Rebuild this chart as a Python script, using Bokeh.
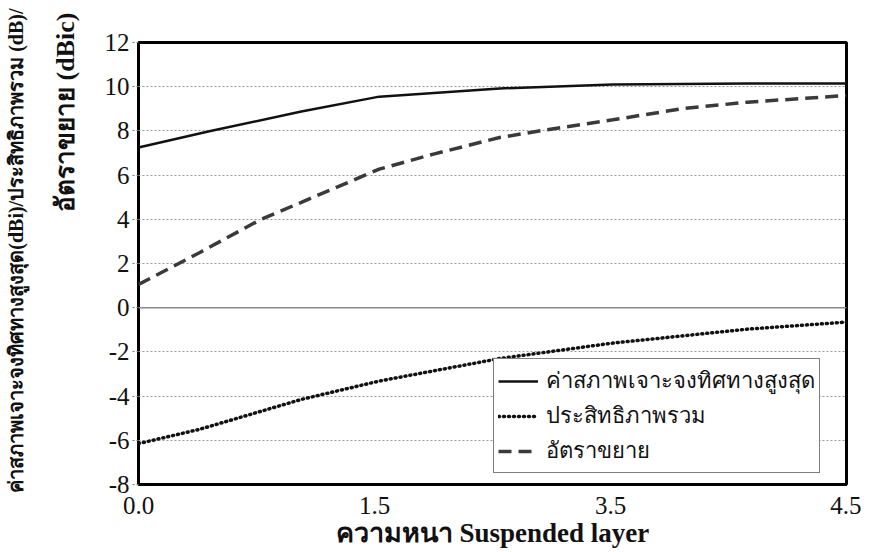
from bokeh.plotting import figure
from bokeh.models import FixedTicker, Span, Legend, LegendItem, Title, Range1d
from bokeh.embed import file_html
from bokeh.resources import INLINE

# x positions on the (evenly spaced) category axis: 0 -> "0.0", 1 -> "1.5", 2 -> "3.5", 3 -> "4.5"
x_ticks = [0, 1, 2, 3]
x_tick_labels = ["0.0", "1.5", "3.5", "4.5"]
y_ticks = [-8, -6, -4, -2, 0, 2, 4, 6, 8, 10, 12]
y_tick_labels = ["-8", "-6", "-4", "-2", "0", "2", "4", "6", "8", "10", "12"]

# directivity (dBi) - solid
dir_x = [0.0, 0.30, 0.69, 1.02, 1.53, 2.01, 2.58, 3.0]
dir_y = [7.25, 7.98, 8.88, 9.55, 9.92, 10.1, 10.15, 10.15]

# total efficiency (dB) - dotted
eff_x = [0.0, 0.26, 0.69, 1.02, 1.53, 2.01, 2.58, 3.0]
eff_y = [-6.15, -5.5, -4.15, -3.32, -2.3, -1.6, -0.97, -0.65]

# gain (dBic) - dashed
gain_x = [0.0, 0.26, 0.52, 0.69, 1.02, 1.25, 1.53, 1.73, 2.01, 2.30, 2.58, 3.0]
gain_y = [1.05, 2.5, 4.0, 4.77, 6.27, 6.95, 7.7, 8.05, 8.5, 9.0, 9.3, 9.6]

label_dir = "ค่าสภาพเจาะจงทิศทางสูงสุด"
label_eff = "ประสิทธิภาพรวม"
label_gain = "อัตราขยาย"
x_title = "ความหนา Suspended layer"
y_title_1 = "ค่าสภาพเจาะจงทิศทางสูงสุด(dBi)/ประสิทธิภาพรวม (dB)/"
y_title_2 = "อัตราขยาย (dBic)"

SERIF = "Liberation Serif"

p = figure(frame_width=708, frame_height=442,
           min_border_left=138, min_border_right=15, min_border_top=42, min_border_bottom=66,
           x_range=Range1d(0, 3), y_range=Range1d(-8, 12),
           output_backend="svg", toolbar_location=None)
p.background_fill_color = "white"
p.border_fill_color = "white"
p.outline_line_color = "black"
p.outline_line_width = 3

# axes
p.xaxis.ticker = FixedTicker(ticks=x_ticks)
p.xaxis.major_label_overrides = {t: l for t, l in zip(x_ticks, x_tick_labels)}
p.yaxis.ticker = FixedTicker(ticks=y_ticks)
p.yaxis.major_label_overrides = {t: l for t, l in zip(y_ticks, y_tick_labels)}
p.xaxis.axis_line_color = None
p.yaxis.axis_line_color = None
p.xaxis.minor_tick_line_color = None
p.yaxis.minor_tick_line_color = None
p.xaxis.major_label_text_font = SERIF
p.yaxis.major_label_text_font = SERIF
p.xaxis.major_label_text_font_size = "25px"
p.yaxis.major_label_text_font_size = "25px"
p.xaxis.major_label_text_color = "#111111"
p.yaxis.major_label_text_color = "#111111"
p.xaxis.major_tick_line_color = None
p.xaxis.major_label_standoff = 6
p.yaxis.major_tick_in = 0
p.yaxis.major_tick_out = 6
p.yaxis.major_tick_line_color = "#777777"
p.yaxis.major_tick_line_dash = "2 2"
p.yaxis.major_label_standoff = 3

p.xaxis.axis_label = x_title
p.xaxis.axis_label_text_font = SERIF
p.xaxis.axis_label_text_font_style = "bold"
p.xaxis.axis_label_text_font_size = "27px"
p.xaxis.axis_label_standoff = 1
p.xaxis.axis_label_text_color = "#111111"

# grid
p.xgrid.grid_line_color = None
p.ygrid.ticker = FixedTicker(ticks=[-6, -4, -2, 2, 4, 6, 8, 10])
p.ygrid.grid_line_color = "#999999"
p.ygrid.grid_line_dash = "2 2"
p.ygrid.grid_line_width = 1
p.add_layout(Span(location=0, dimension="width", line_color="#888888", line_width=1.5))

# y titles (two lines, aligned at top)
t2 = Title(text=y_title_2, align="right", text_font=SERIF, text_font_style="bold",
           text_font_size="26px", text_color="#111111", offset=-30, standoff=44)
t1 = Title(text=y_title_1, align="right", text_font=SERIF, text_font_style="bold",
           text_font_size="20px", text_color="#111111", offset=-34, standoff=0)
p.add_layout(t2, "left")
p.add_layout(t1, "left")

r_dir = p.line(dir_x, dir_y, line_color="#111111", line_width=2.5)
r_eff = p.line(eff_x, eff_y, line_color="#111111", line_width=3.5, line_dash="1 4", line_cap="round")
r_gain = p.line(gain_x, gain_y, line_color="#3a3a3a", line_width=3.5, line_dash="13 7")

legend = Legend(items=[LegendItem(label=label_dir, renderers=[r_dir]),
                       LegendItem(label=label_eff, renderers=[r_eff]),
                       LegendItem(label=label_gain, renderers=[r_gain])],
                location=(355, 11))
legend.label_text_font = "Noto Sans"
legend.label_text_font_size = "22px"
legend.label_text_color = "#111111"
legend.glyph_width = 40
legend.glyph_height = 26
legend.label_height = 26
legend.padding = 4
legend.margin = 0
legend.label_standoff = 8
legend.spacing = -3
legend.border_line_color = "black"
legend.border_line_width = 1.5
legend.background_fill_color = "white"
legend.background_fill_alpha = 1
p.add_layout(legend, "center")

open("out.html", "w").write(file_html(p, INLINE))
